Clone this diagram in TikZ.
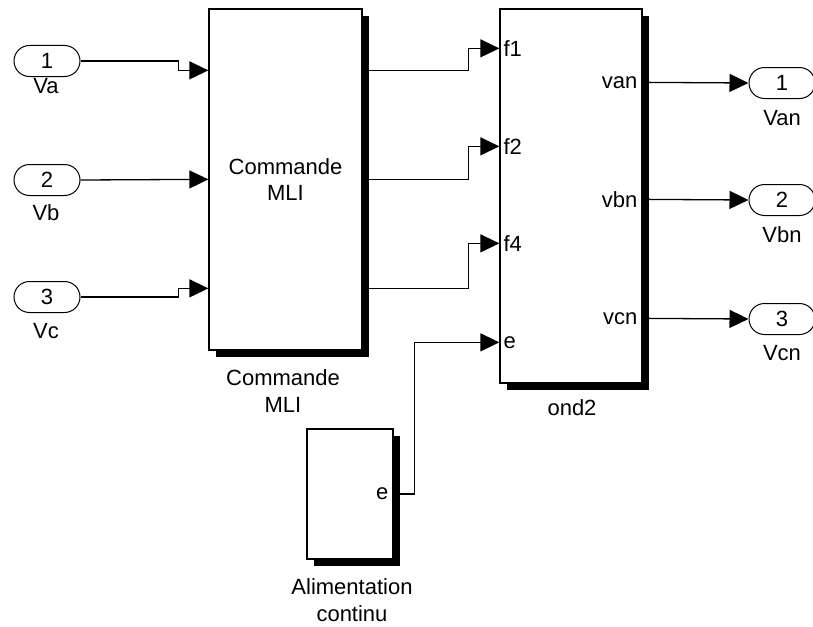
\documentclass[tikz,border=0pt]{standalone}
\usepackage{fontspec}
\setmainfont{Liberation Sans}
\usetikzlibrary{arrows.meta, positioning, calc, shapes.misc, shadows}
\tikzset{
    block/.style={rectangle, draw, line width=1.3pt, fill=white, align=center, drop shadow={shadow xshift=7pt, shadow yshift=-7pt, fill=black, opacity=1}},
    port/.style={rounded rectangle, draw, line width=1pt, minimum width=66pt, minimum height=31pt, inner sep=0pt},
    sig/.style={draw, line width=1.3pt, -{Triangle[length=19pt, width=18pt]}},
    lbl/.style={align=center, inner sep=0pt}
}

\begin{document}
\begin{tikzpicture}[x=1pt, y=-1pt, font=\fontsize{22}{26.5}\selectfont]
    \useasboundingbox (0,0) rectangle (813,626);

    % Subsystem blocks
    \node[block, minimum width=153pt, minimum height=341pt] (mli) at (285.5,179.5) {Commande\\MLI};
    \node[block, minimum width=142pt, minimum height=374pt] (ond) at (571,196) {};
    \node[block, minimum width=86pt, minimum height=130pt] (alim) at (350,494) {};

    % Block names
    \node[lbl] (mli-name) at (283,391) {Commande\\MLI};
    \node[lbl] (ond-name) at (572,408) {ond2};
    \node[lbl] (alim-name) at (352,600) {Alimentation\\continu};

    % Port positions on the blocks
    \foreach \i/\y in {1/62, 2/171, 3/280} {
        \coordinate (mli-in\i) at ($(mli.north west)+(0,\y)$);
        \coordinate (mli-out\i) at ($(mli.north east)+(0,\y)$);
    }
    \foreach \i/\y in {1/40, 2/138, 3/235, 4/334}
        \coordinate (ond-in\i) at ($(ond.north west)+(0,\y)$);
    \foreach \i/\y in {1/74, 2/191, 3/310}
        \coordinate (ond-out\i) at ($(ond.north east)+(0,\y)$);

    % Port labels inside the blocks
    \foreach \i/\t in {1/f1, 2/f2, 3/f4, 4/e}
        \node[anchor=west, inner sep=4pt] (ond-l\i) at (ond-in\i) {\t};
    \foreach \i/\t in {1/van, 2/vbn, 3/vcn}
        \node[anchor=east, inner sep=5pt] (ond-r\i) at (ond-out\i) {\t};
    \node[anchor=east, inner sep=5pt] (alim-r) at (alim.east) {e};

    % Inports and outports
    \node[port] (in1) at (47,61) {1};
    \node[port] (in2) at (47,180) {2};
    \node[port] (in3) at (47,297) {3};
    \node[lbl] (va) at (46,86) {Va};
    \node[lbl] (vb) at (46,213) {Vb};
    \node[lbl] (vc) at (46,331) {Vc};

    \node[port] (out1) at (782,83) {1};
    \node[port] (out2) at (782,200) {2};
    \node[port] (out3) at (782,319) {3};
    \node[lbl] (van) at (782,118) {Van};
    \node[lbl] (vbn) at (782,235) {Vbn};
    \node[lbl] (vcn) at (782,353) {Vcn};

    % Signal lines
    \draw[sig] (in1.east) -- ++(98,0) |- (mli-in1);
    \draw[sig] (in2.east) -- (mli-in2);
    \draw[sig] (in3.east) -- ++(98,0) |- (mli-in3);

    \foreach \i in {1,2,3}
        \draw[sig] (mli-out\i) -- ++(106,0) |- (ond-in\i);
    \draw[sig] (alim.east) -- ++(21,0) |- (ond-in4);

    \foreach \i in {1,2,3}
        \draw[sig] (ond-out\i) -- (out\i.west);
\end{tikzpicture}
\end{document}
